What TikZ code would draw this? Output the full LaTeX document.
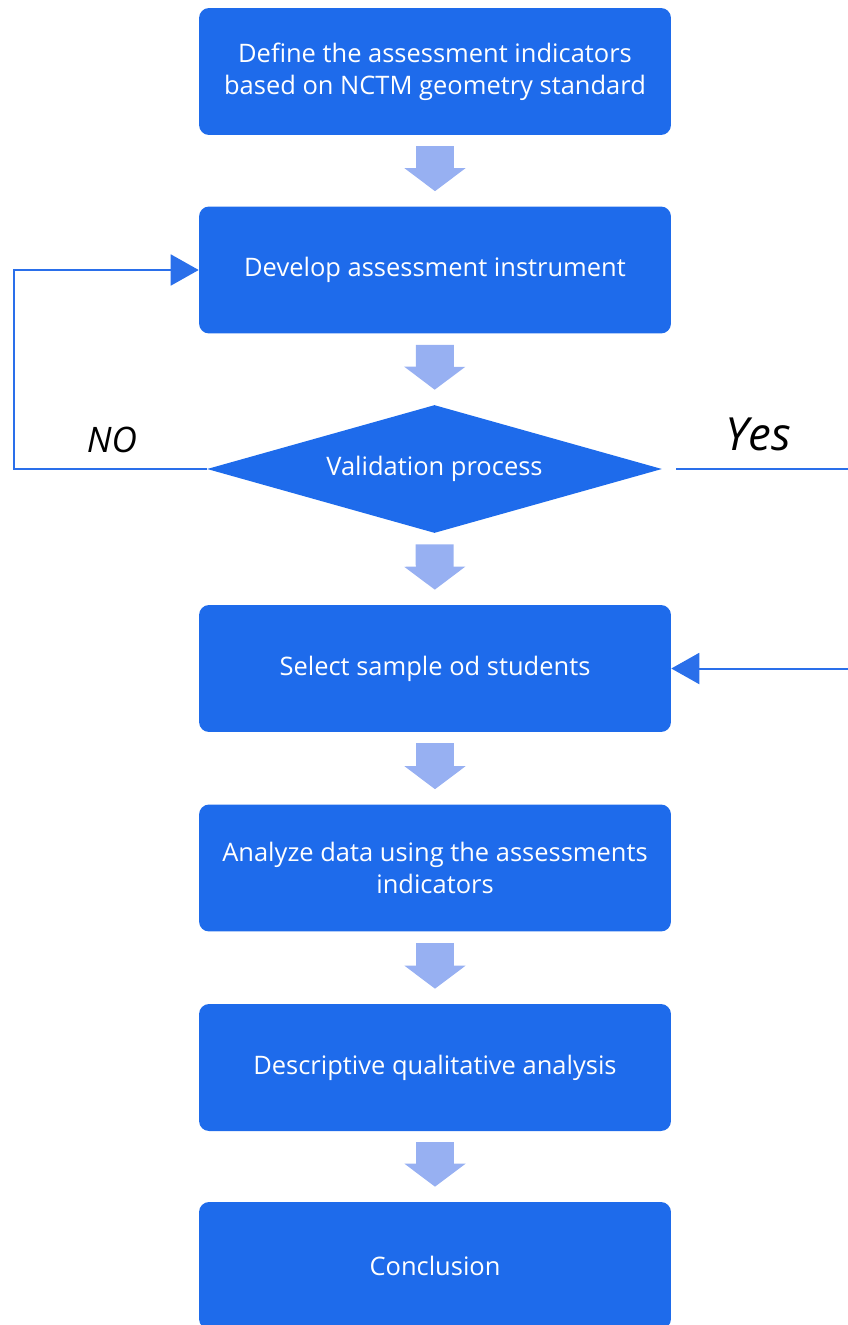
\documentclass[tikz,border=0pt]{standalone}
\usepackage{fontspec}
\setmainfont{Open Sans}
\usetikzlibrary{shapes.geometric,arrows.meta}
\definecolor{boxblue}{HTML}{1E6BEB}
\definecolor{fatblue}{HTML}{97B0F2}
\definecolor{lineblue}{HTML}{2A6FEA}

\tikzset{
	stepbox/.style={fill=boxblue, rounded corners=0.2cm, minimum width=9.44cm, minimum height=2.54cm, text=white, align=center, font=\fontsize{14.5}{18}\selectfont},
	fatarrow/.style={fatblue, line width=0.76cm, -{Triangle[width=1.2cm,length=0.46cm]}, shorten <=0.22cm, shorten >=0.3cm},
	link/.style={lineblue, line width=0.04cm},
	hand/.style={font=\fontsize{20}{20}\selectfont\itshape}
}

\begin{document}
\begin{tikzpicture}[x=0.02cm, y=-0.02cm]
	\clip (0, 0) rectangle (848, 1325);
	\useasboundingbox (0, 0) rectangle (848, 1325);

	\node[stepbox] (define) at (435, 71.5) {Define the assessment indicators\\based on NCTM geometry standard};
	\node[stepbox] (develop) at (435, 270) {Develop assessment instrument};
	\node[diamond, aspect=3.55, fill=boxblue, inner sep=0pt, minimum width=9.1cm, minimum height=2.56cm, text=white, font=\fontsize{14.5}{18}\selectfont] (valid) at (434.5, 469) {Validation process};
	\node[stepbox] (sample) at (435, 668.5) {Select sample od students};
	\node[stepbox] (analyze) at (435, 868) {Analyze data using the assessments\\indicators};
	\node[stepbox] (descr) at (435, 1067.5) {Descriptive qualitative analysis};
	\node[stepbox] (concl) at (435, 1265.5) {Conclusion};

	\draw[fatarrow] (define) -- (develop);
	\draw[fatarrow] (develop) -- (valid);
	\draw[fatarrow] (valid) -- (sample);
	\draw[fatarrow] (sample) -- (analyze);
	\draw[fatarrow] (analyze) -- (descr);
	\draw[fatarrow] (descr) -- (concl);

	% loop back when not valid
	\coordinate (nocorner) at (14, 469);
	\draw[link, -{Triangle[width=0.62cm,length=0.56cm]}] (valid.west) -- (nocorner) |- (develop.west);
	\node[hand] (no) at (112, 440) {NO};

	% yes goes round on the right, outside the page
	\coordinate (yesstart) at (676, 469);
	\coordinate (yesend) at (848, 469);
	\coordinate (backin) at (848, 668.5);
	\draw[link] (yesstart) -- (yesend);
	\draw[link, -{Triangle[width=0.62cm,length=0.56cm]}] (backin) -- (sample.east);
	\node[hand, font=\fontsize{26}{26}\selectfont\itshape] (yes) at (758, 434) {Yes};
\end{tikzpicture}
\end{document}
